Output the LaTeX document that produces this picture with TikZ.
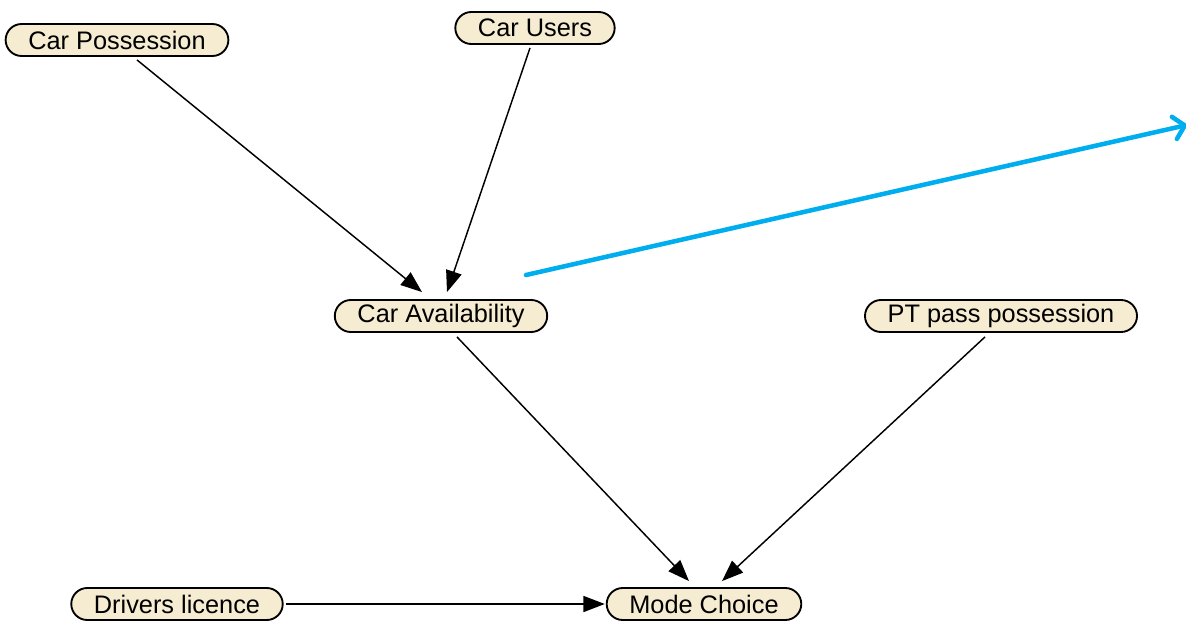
\documentclass[tikz,border=0pt]{standalone}
\usepackage{fontspec}
\setmainfont{Liberation Sans}
\usetikzlibrary{arrows.meta,calc}
\definecolor{nodecream}{HTML}{F6ECD2}
\definecolor{linkblue}{HTML}{00AEEF}
\tikzset{
  var/.style={draw, line width=1.4pt, fill=nodecream, rounded corners=12pt,
    minimum height=24pt, inner xsep=17pt, inner ysep=0pt,
    font=\fontsize{19}{22}\selectfont},
  link/.style={line width=1.1pt, -{Triangle[length=16pt,width=12pt]}},
  hint/.style={line width=3.4pt, linkblue, line cap=round,
    -{Straight Barb[length=8pt,width=17pt,round]}}
}
\begin{document}
\begin{tikzpicture}[x=0.75pt,y=-0.75pt]
      \useasboundingbox (0,0) rectangle (1186,621);
      \node[var] (cp) at (117,40) {Car Possession};
      \node[var] (cu) at (535,28) {Car Users};
      \node[var] (ca) at (441,316) {Car Availability};
      \node[var] (pt) at (1001,316) {PT pass possession};
      \node[var] (dl) at (177,604) {Drivers licence};
      \node[var] (mc) at (704,604) {Mode Choice};
      \draw [link] ($(cp.south)+(20,3)$) -- ($(ca.north)+(-19,-7)$);
      \draw [link] ($(cu.south)+(-5,3)$) -- ($(ca.north)+(6,-7)$);
      \draw [link] ($(ca.south)+(16,4)$) -- ($(mc.north)+(-15,-6)$);
      \draw [link] ($(pt.south)+(-16,4)$) -- ($(mc.north)+(18,-6)$);
      \draw [link] ($(dl.east)+(2,0)$) -- ($(mc.west)+(-1,0)$);
      \coordinate (hs) at (526,275);
      \coordinate (he) at (1187,125);
      \draw [hint] (hs) -- (he);
    \end{tikzpicture}
\end{document}
